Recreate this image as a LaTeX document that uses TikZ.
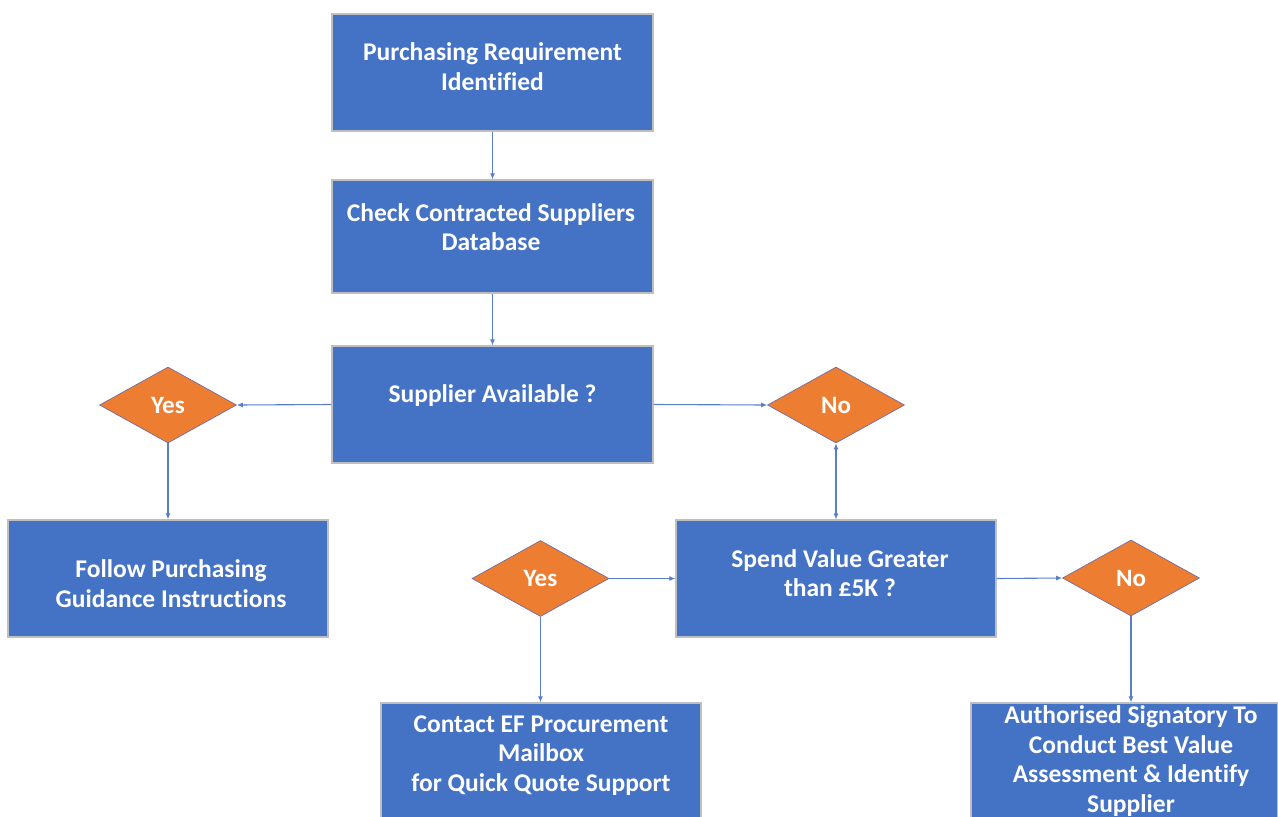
\documentclass[tikz,border=0pt]{standalone}
\usepackage{fontspec}
\setmainfont{Carlito}[Ligatures=NoCommon]
\usetikzlibrary{shapes.geometric,arrows.meta}
\definecolor{boxblue}{HTML}{4472C4}
\definecolor{diaorange}{HTML}{ED7D31}
\definecolor{linkblue}{HTML}{5A7EC7}
\tikzset{
  stepbox/.style={rectangle, fill=boxblue, draw=black!25, line width=1.2pt,
    minimum width=321pt, minimum height=117pt, inner sep=0pt},
  choice/.style={diamond, fill=diaorange, draw=black!55!blue!60, line width=0.6pt,
    minimum width=137pt, minimum height=76pt, inner sep=0pt,
    text=white, font=\bfseries\fontsize{25}{29}\selectfont},
  caption/.style={text=white, align=center, inner sep=0pt,
    font=\bfseries\fontsize{25.5}{29.5}\selectfont},
  link/.style={draw=linkblue, line width=1.1pt, -{Latex[length=6pt,width=5pt]}},
  duallink/.style={draw=linkblue, line width=1.1pt, {Latex[length=6pt,width=5pt]}-{Latex[length=6pt,width=5pt]}}
}
\begin{document}
\begin{tikzpicture}[x=1pt,y=-1pt]
\useasboundingbox (0,0) rectangle (1278,817);
\fill[white] (0,0) rectangle (1278,817);

% process boxes
\node[stepbox] (req)    at (492.5,72.5)  {};
\node[stepbox, minimum height=113pt] (check) at (492.5,236.5) {};
\node[stepbox] (avail)  at (492.5,404.5) {};
\node[stepbox, minimum width=320pt] (follow) at (168,578.5) {};
\node[stepbox, minimum width=320pt] (spend)  at (836,578.5) {};
\node[stepbox, minimum width=320pt, minimum height=130pt] (contact) at (541,768) {};
\node[stepbox, minimum width=307pt, minimum height=130pt] (auth)    at (1124.5,768) {};

% box captions
\node[caption] (treq)     at (492.5,66.5)  {Purchasing Requirement\\Identified};
\node[caption] (tcheck)   at (491,227)     {Check Contracted Suppliers\\Database};
\node[caption] (tavail)   at (492.5,395.5) {Supplier Available ?};
\node[caption] (tfollow)  at (171,583.5)   {Follow Purchasing\\Guidance Instructions};
\node[caption] (tspend)   at (840,573)     {Spend Value Greater\\than £5K ?};
\node[caption] (tcontact) at (541,755.5)   {Contact EF Procurement\\Mailbox\\for Quick Quote Support};
\node[caption] (tauth)    at (1131,761)    {Authorised Signatory To\\Conduct Best Value\\Assessment \& Identify\\Supplier};

% decisions
\node[choice] (yes1) at (168,405)  {Yes};
\node[choice] (no1)  at (836,405)  {No};
\node[choice] (yes2) at (540.5,578.5) {Yes};
\node[choice] (no2)  at (1131,578) {No};

% connectors
\draw[link] (req.south) -- (check.north);
\draw[link] (check.south) -- (avail.north);
\draw[link] (avail.west) -- (yes1.east);
\draw[link] (avail.east) -- (no1.west);
\draw[link] (yes1.south) -- (follow.north);
\draw[duallink] (no1.south) -- (no1.south |- spend.north);
\draw[link] (yes2.east) -- (spend.west);
\draw[link] (spend.east) -- (no2.west);
\draw[link] (yes2.south) -- (yes2.south |- contact.north);
\draw[link] (no2.south) -- (no2.south |- auth.north);
\end{tikzpicture}
\end{document}
